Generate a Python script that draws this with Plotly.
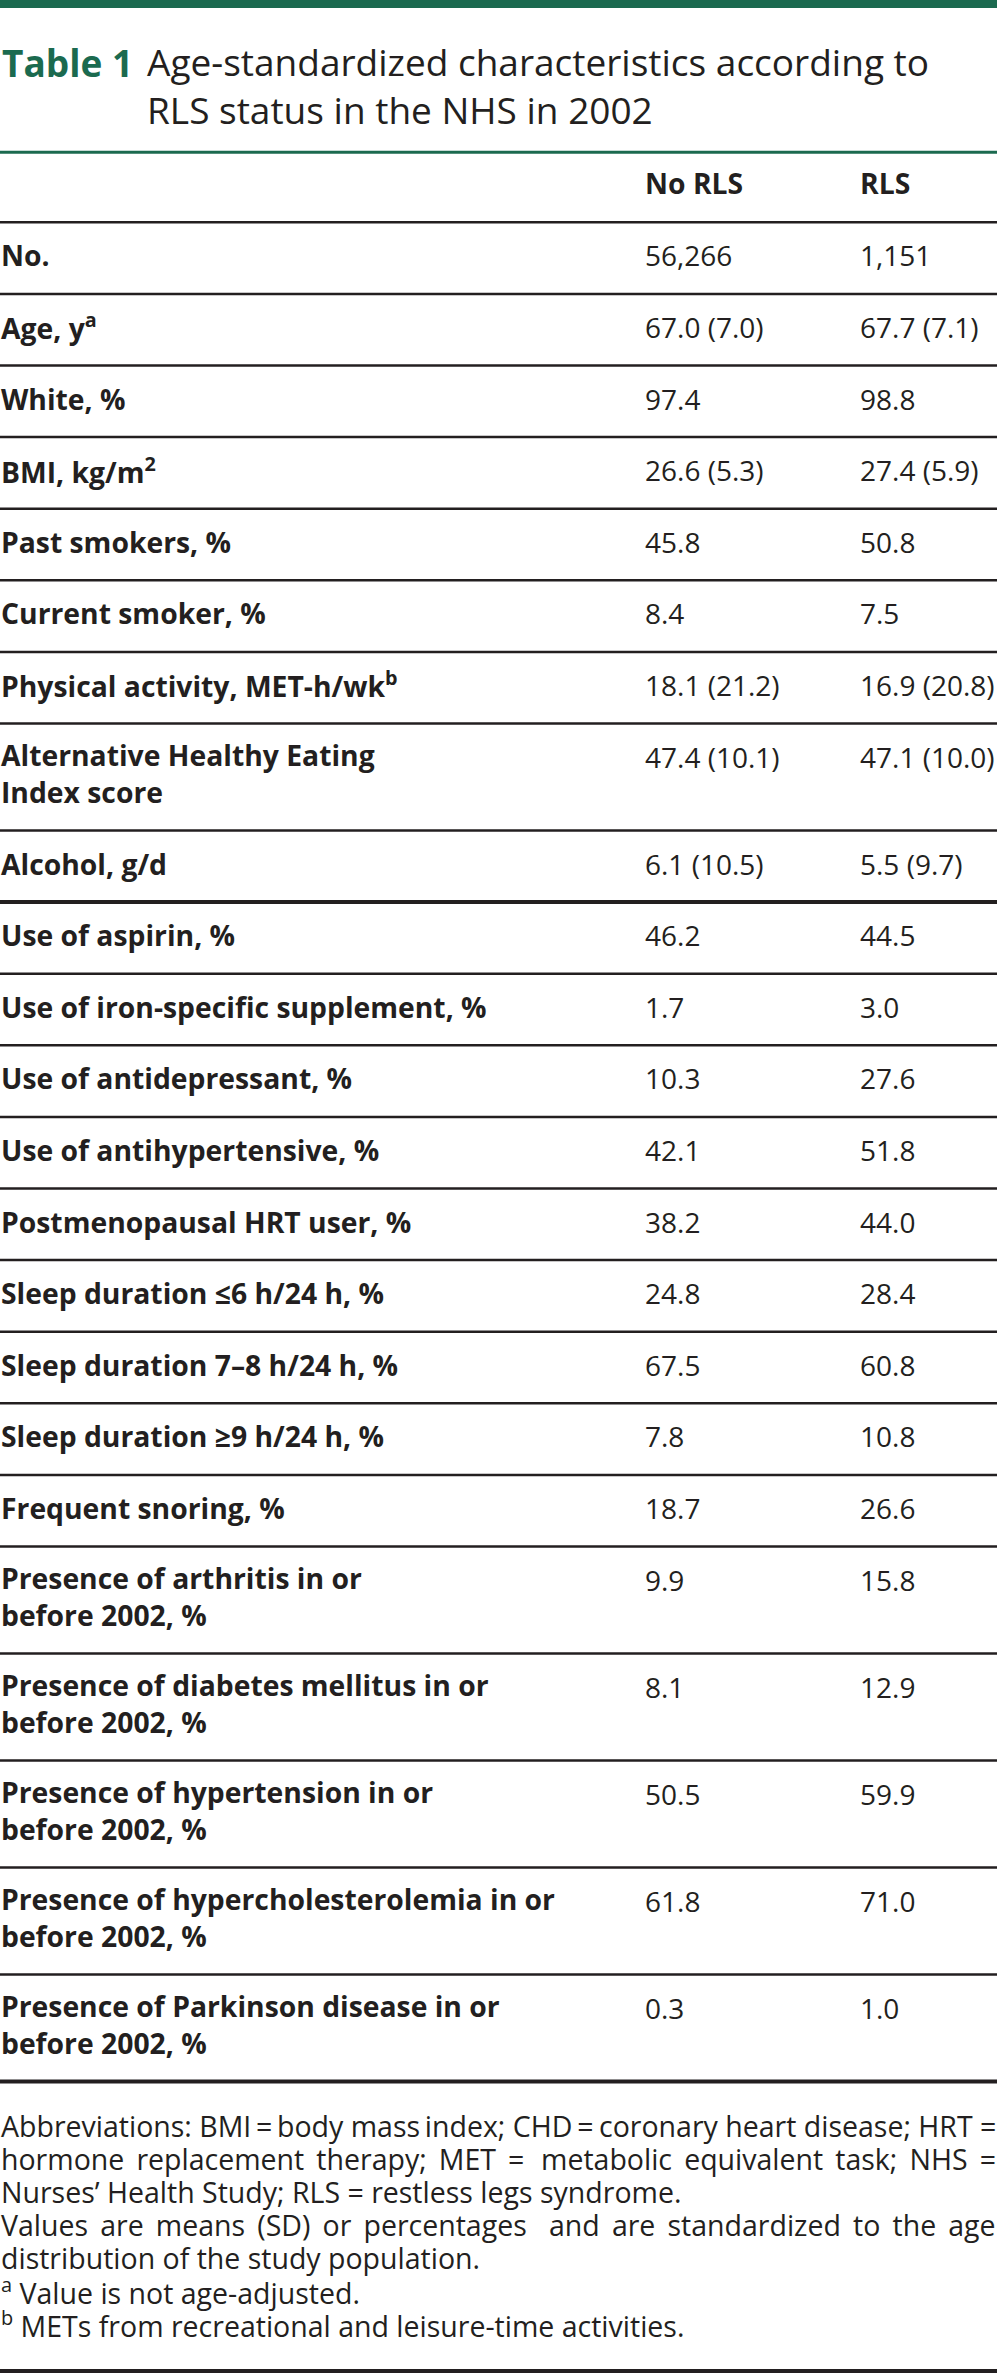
import plotly.graph_objects as go

W, H = 997, 2373
GREEN = "#1b6a4f"
INK = "#231f20"
FONT = "Open Sans"

title_label = "Table 1"
title_lines = ["Age-standardized characteristics according to",
               "RLS status in the NHS in 2002"]
col_headers = ["No RLS", "RLS"]
row_labels = [
    "No.", "Age, y<sup>a</sup>", "White, %", "BMI, kg/m<sup>2</sup>",
    "Past smokers, %", "Current smoker, %",
    "Physical activity, MET-h/wk<sup>b</sup>",
    "Alternative Healthy Eating<br>Index score", "Alcohol, g/d",
    "Use of aspirin, %", "Use of iron-specific supplement, %",
    "Use of antidepressant, %", "Use of antihypertensive, %",
    "Postmenopausal HRT user, %", "Sleep duration ≤6 h/24 h, %",
    "Sleep duration 7–8 h/24 h, %", "Sleep duration ≥9 h/24 h, %",
    "Frequent snoring, %",
    "Presence of arthritis in or<br>before 2002, %",
    "Presence of diabetes mellitus in or<br>before 2002, %",
    "Presence of hypertension in or<br>before 2002, %",
    "Presence of hypercholesterolemia in or<br>before 2002, %",
    "Presence of Parkinson disease in or<br>before 2002, %",
]
no_rls = ["56,266", "67.0 (7.0)", "97.4", "26.6 (5.3)", "45.8", "8.4",
          "18.1 (21.2)", "47.4 (10.1)", "6.1 (10.5)", "46.2", "1.7", "10.3",
          "42.1", "38.2", "24.8", "67.5", "7.8", "18.7", "9.9", "8.1", "50.5",
          "61.8", "0.3"]
rls = ["1,151", "67.7 (7.1)", "98.8", "27.4 (5.9)", "50.8", "7.5",
       "16.9 (20.8)", "47.1 (10.0)", "5.5 (9.7)", "44.5", "3.0", "27.6",
       "51.8", "44.0", "28.4", "60.8", "10.8", "26.6", "15.8", "12.9", "59.9",
       "71.0", "1.0"]
thick_rule_after = ["Alcohol, g/d"]

# footnote lines: (left part, right part or None); justified lines are split
# into a left-aligned and a right-aligned half
T = "\u2009"        # thin space
WS = " \u2009"      # widened word space
footnotes = [
    (f"Abbreviations: BMI{T}={T}body mass{T}index; CHD{T}=", "coronary heart disease; HRT ="),
    ("hormone replacement therapy; MET =".replace(" ", WS),
     "metabolic equivalent task; NHS =".replace(" ", WS)),
    ("Nurses’ Health Study; RLS = restless legs syndrome.", None),
    ("Values are means (SD) or percentages".replace(" ", WS),
     "and are standardized to the age".replace(" ", WS)),
    ("distribution of the study population.", None),
    ("<sup>a</sup> Value is not age-adjusted.", None),
    ("<sup>b</sup> METs from recreational and leisure-time activities.", None),
]

# layout geometry (pixels)
X_LABEL, X_COL1, X_COL2 = 0, 644, 859
HEADER_TOP, TABLE_TOP = 152.3, 222.3
ROW1, ROW2 = 71.6, 107.0
PAD, LINE_H = 33, 33
FS_LAB, FS_VAL, FS_NOTE, FS_TITLE = 28.3, 28, 28.5, 37

shapes, annotations = [], []

def hline(y, width, color=INK):
    shapes.append(dict(type="line", xref="x", yref="y", x0=0, x1=W, y0=y, y1=y,
                       line=dict(color=color, width=width)))

def text(x, y, s, size, bold=False, color=INK, anchor="left"):
    annotations.append(dict(x=x, y=y, xref="x", yref="y", text=(f"<b>{s}</b>" if bold else s),
                            showarrow=False, xanchor=anchor, yanchor="middle", align=anchor,
                            borderpad=0, font=dict(family=FONT, size=size, color=color)))

# top band
shapes.append(dict(type="rect", xref="x", yref="y", x0=0, x1=W, y0=0, y1=8,
                   fillcolor=GREEN, line=dict(width=0)))
# title
text(1, 62.7, title_label, FS_TITLE, bold=True, color=GREEN)
text(146, 62.7 + 22.5, "<br>".join(title_lines), FS_TITLE)

hline(HEADER_TOP, 3, GREEN)
text(X_COL1, HEADER_TOP + 31, col_headers[0], FS_LAB, bold=True)
text(X_COL2, HEADER_TOP + 31, col_headers[1], FS_LAB, bold=True)
hline(TABLE_TOP, 2.5)

y = TABLE_TOP
for lab, a, b in zip(row_labels, no_rls, rls):
    n = len(lab.split("<br>"))
    text(X_LABEL, y + PAD + LINE_H * (n - 1) / 2, lab, FS_LAB, bold=True)
    text(X_COL1, y + PAD, a, FS_VAL)
    text(X_COL2, y + PAD, b, FS_VAL)
    y += ROW1 if n == 1 else ROW2
    last = lab == row_labels[-1]
    hline(y, 4 if (lab in thick_rule_after or last) else 2.5)

fy = 2126
for i, (left, right) in enumerate(footnotes):
    text(0, fy + 33 * i, left, FS_NOTE)
    if right:
        text(W, fy + 33 * i, right, FS_NOTE, anchor="right")

hline(2371, 4)

fig = go.Figure()
fig.update_layout(
    width=W, height=H, margin=dict(l=0, r=0, t=0, b=0),
    paper_bgcolor="white", plot_bgcolor="white",
    xaxis=dict(range=[0, W], visible=False, fixedrange=True),
    yaxis=dict(range=[H, 0], visible=False, fixedrange=True),
    shapes=shapes, annotations=annotations, showlegend=False,
)
fig.write_html("out.html", config={"displayModeBar": False},
               post_script="document.body.style.margin='0';")
